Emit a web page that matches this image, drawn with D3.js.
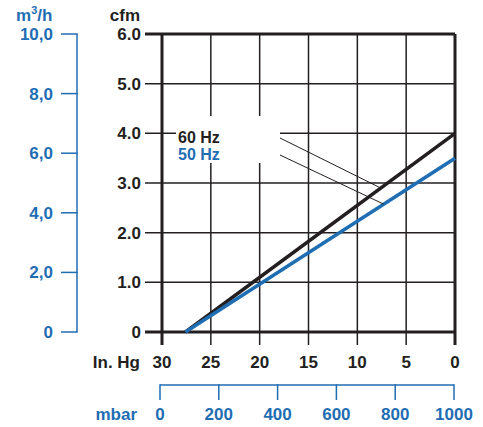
<!DOCTYPE html>
<html>
<head>
<script src="https://cdn.jsdelivr.net/npm/d3@7"></script>
<style>
  * { margin: 0; padding: 0; }
  body { background: #fff; overflow: hidden; }
  text { font-family: "Liberation Sans", Arial, sans-serif; font-weight: bold; }
</style>
</head>
<body>
<script>
// values
const inHgTicks = [30, 25, 20, 15, 10, 5, 0]
const cfmTicks = [0, 1, 2, 3, 4, 5, 6]
const m3hTicks = [0, 2, 4, 6, 8, 10]
const mbarTicks = [0, 200, 400, 600, 800, 1000]
const hz60 = [{ inHg: 27.6, cfm: 0 }, { inHg: 0, cfm: 4.0 }]
const hz50 = [{ inHg: 27.6, cfm: 0 }, { inHg: 0, cfm: 3.5 }]
const leaderEnds = [7.6, 7.3] // inHg where the pointer lines meet each curve

const black = '#231f20'
const blue = '#1f6db3'
const fs = 17

const svg = d3.select('body').append('svg')
  .attr('width', 483).attr('height', 427)

const x = d3.scaleLinear().domain([30, 0]).range([162, 455])
const y = d3.scaleLinear().domain([0, 6]).range([332, 34])
const yM3h = d3.scaleLinear().domain([0, 10]).range([332, 34])
const xMbar = d3.scaleLinear().domain([0, 1000]).range([160, 454])

// grid
svg.selectAll('.vgrid').data(inHgTicks).enter().append('line')
  .attr('x1', d => x(d)).attr('x2', d => x(d))
  .attr('y1', y(6)).attr('y2', y(0) + 13)
  .attr('stroke', black)
  .attr('stroke-width', d => (d == 30 || d == 0) ? 3 : 1.5)

svg.selectAll('.hgrid').data(cfmTicks).enter().append('line')
  .attr('x1', x(30) - 17).attr('x2', x(0))
  .attr('y1', d => y(d)).attr('y2', d => y(d))
  .attr('stroke', black)
  .attr('stroke-width', d => (d == 0 || d == 6) ? 3 : 1.5)

// label box punches a hole in the grid
svg.append('rect')
  .attr('x', 176).attr('y', 116).attr('width', 104).attr('height', 47)
  .attr('fill', '#fff')

// cfm labels
svg.selectAll('.cfm').data(cfmTicks).enter().append('text')
  .attr('x', x(30) - 21).attr('y', d => y(d) + 6)
  .attr('text-anchor', 'end').attr('font-size', fs).attr('fill', black)
  .text(d => d == 0 ? '0' : d.toFixed(1))
svg.append('text').attr('x', 140).attr('y', 21).attr('text-anchor', 'end')
  .attr('font-size', fs).attr('fill', black).text('cfm')

// In. Hg labels
svg.selectAll('.hg').data(inHgTicks).enter().append('text')
  .attr('x', d => x(d)).attr('y', 368)
  .attr('text-anchor', 'middle').attr('font-size', fs).attr('fill', black)
  .text(d => d)
svg.append('text').attr('x', 140).attr('y', 368).attr('text-anchor', 'end')
  .attr('font-size', fs).attr('fill', black).text('In. Hg')

// m3/h axis (blue, left)
svg.append('line')
  .attr('x1', 77).attr('x2', 77).attr('y1', yM3h(10)).attr('y2', yM3h(0))
  .attr('stroke', blue).attr('stroke-width', 1.5)
svg.selectAll('.m3t').data(m3hTicks).enter().append('line')
  .attr('x1', 61).attr('x2', 77.7).attr('y1', d => yM3h(d)).attr('y2', d => yM3h(d))
  .attr('stroke', blue).attr('stroke-width', 1.5)
svg.selectAll('.m3l').data(m3hTicks).enter().append('text')
  .attr('x', 53).attr('y', d => yM3h(d) + 6)
  .attr('text-anchor', 'end').attr('font-size', fs).attr('fill', blue)
  .text(d => d == 0 ? '0' : d.toFixed(1).replace('.', ','))
const t = svg.append('text').attr('x', 16).attr('y', 21)
  .attr('font-size', fs).attr('fill', blue)
t.append('tspan').text('m')
t.append('tspan').attr('font-size', 11).attr('dy', -7).text('3')
t.append('tspan').attr('dy', 7).text('/h')

// mbar axis (blue, bottom)
svg.append('line')
  .attr('x1', xMbar(0)).attr('x2', xMbar(1000)).attr('y1', 385).attr('y2', 385)
  .attr('stroke', blue).attr('stroke-width', 1.5)
svg.selectAll('.mbt').data(mbarTicks).enter().append('line')
  .attr('x1', d => xMbar(d)).attr('x2', d => xMbar(d)).attr('y1', 384.3).attr('y2', 400)
  .attr('stroke', blue).attr('stroke-width', 1.5)
svg.selectAll('.mbl').data(mbarTicks).enter().append('text')
  .attr('x', d => xMbar(d)).attr('y', 420)
  .attr('text-anchor', 'middle').attr('font-size', fs).attr('fill', blue)
  .text(d => d)
svg.append('text').attr('x', 137).attr('y', 420).attr('text-anchor', 'end')
  .attr('font-size', fs).attr('fill', blue).text('mbar')

// curves
const line = d3.line().x(d => x(d.inHg)).y(d => y(d.cfm))
svg.append('path').datum(hz60).attr('d', line)
  .attr('fill', 'none').attr('stroke', black).attr('stroke-width', 3.5)
svg.append('path').datum(hz50).attr('d', line)
  .attr('fill', 'none').attr('stroke', blue).attr('stroke-width', 3.5)

// labels and pointer lines
function cfmAt(series, h) {
  const a = series[0], b = series[1]
  return a.cfm + (b.cfm - a.cfm) * (h - a.inHg) / (b.inHg - a.inHg)
}
svg.append('line')
  .attr('x1', 280).attr('y1', 138)
  .attr('x2', x(leaderEnds[0])).attr('y2', y(cfmAt(hz60, leaderEnds[0])))
  .attr('stroke', black).attr('stroke-width', 1)
svg.append('line')
  .attr('x1', 280).attr('y1', 155)
  .attr('x2', x(leaderEnds[1])).attr('y2', y(cfmAt(hz50, leaderEnds[1])))
  .attr('stroke', black).attr('stroke-width', 1)

svg.append('text').attr('x', 178).attr('y', 143)
  .attr('font-size', 16).attr('fill', black).text('60 Hz')
svg.append('text').attr('x', 178).attr('y', 160)
  .attr('font-size', 16).attr('fill', blue).text('50 Hz')
</script>
</body>
</html>
